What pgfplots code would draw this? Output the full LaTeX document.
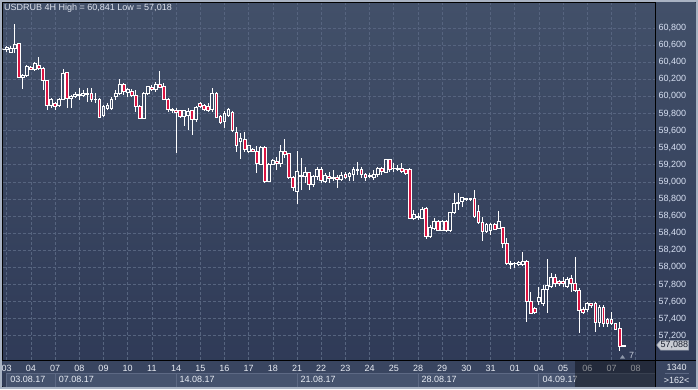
\documentclass[border=0pt]{standalone}
\usepackage{pgfplots}
\pgfplotsset{compat=1.18}
\usepackage{pgfplotstable}
\usepackage{fontspec}
\setmainfont{Liberation Sans}
\definecolor{gridc}{HTML}{56647F}
\definecolor{daylab}{HTML}{E8ECF4}
\definecolor{pricelab}{HTML}{D8E1F3}
\definecolor{candlered}{HTML}{DA1442}
\definecolor{bgtop}{HTML}{425069}
\definecolor{bgbot}{HTML}{2E3956}
\definecolor{framec}{HTML}{A9B3C3}
\definecolor{dayrow}{HTML}{394560}
\definecolor{daterow}{HTML}{46536E}
\definecolor{darkcell}{HTML}{323C55}
\definecolor{sepc}{HTML}{5D6984}
\definecolor{tagfill}{HTML}{C9CCD3}
\definecolor{tagdraw}{HTML}{9AA3B3}
\definecolor{tagtext}{HTML}{1A2030}
\definecolor{markc}{HTML}{8E98AA}
\definecolor{sevenc}{HTML}{C5CBD8}
\definecolor{titlec}{HTML}{DFE4EE}
\newcommand\f{\fontsize{9bp}{10.8bp}\selectfont}

\pgfplotstableread{
j o h l c
0 60.549 60.566 60.537 60.554
1 60.543 60.589 60.519 60.566
2 60.516 60.589 60.504 60.563
3 60.563 60.841 60.504 60.601
4 60.613 60.621 60.212 60.223
5 60.223 60.262 60.083 60.247
6 60.239 60.367 60.223 60.347
7 60.336 60.356 60.303 60.317
8 60.317 60.399 60.300 60.379
9 60.359 60.464 60.309 60.325
10 60.329 60.347 60.075 60.180
11 60.180 60.186 59.841 59.888
12 59.888 59.978 59.861 59.966
13 59.919 59.938 59.841 59.880
14 59.899 59.978 59.880 59.966
15 59.966 60.317 59.958 60.270
16 60.274 60.289 59.864 59.970
17 59.970 60.016 59.861 59.997
18 59.997 60.051 59.981 60.025
19 60.025 60.095 59.958 60.008
20 60.016 60.075 59.997 60.036
21 60.036 60.095 59.938 60.020
22 60.034 60.095 59.938 59.958
23 59.958 60.036 59.919 59.964
24 59.964 59.981 59.744 59.756
25 59.771 59.899 59.759 59.876
26 59.853 59.923 59.841 59.899
27 59.853 59.997 59.841 59.958
28 59.997 60.075 59.958 60.028
29 60.036 60.200 60.016 60.133
30 60.133 60.153 60.016 60.055
31 60.051 60.098 59.997 60.075
32 60.055 60.086 59.993 60.016
33 60.016 60.075 59.821 59.880
34 59.880 59.899 59.733 59.744
35 59.744 60.055 59.733 60.036
36 60.028 60.122 60.016 60.114
37 60.106 60.133 60.063 60.083
38 60.083 60.168 60.055 60.133
39 60.133 60.297 60.095 60.106
40 60.110 60.153 59.958 59.966
41 59.966 59.978 59.821 59.841
42 59.841 59.861 59.802 59.835
43 59.835 59.861 59.342 59.812
44 59.829 59.841 59.747 59.763
45 59.763 59.841 59.658 59.829
46 59.782 59.861 59.607 59.818
47 59.829 59.841 59.549 59.724
48 59.724 59.888 59.704 59.864
49 59.911 59.938 59.861 59.876
50 59.888 59.911 59.829 59.841
51 59.876 59.926 59.821 59.833
52 59.841 60.095 59.821 60.036
53 60.036 60.055 59.744 59.756
54 59.759 59.782 59.685 59.692
55 59.704 59.829 59.630 59.802
56 59.782 59.861 59.759 59.841
57 59.806 59.829 59.584 59.595
58 59.572 59.642 59.350 59.420
59 59.478 59.572 59.268 59.502
60 59.490 59.580 59.353 59.381
61 59.353 59.432 59.338 59.420
62 59.381 59.396 59.350 59.361
63 59.353 59.424 59.101 59.218
64 59.206 59.424 59.198 59.404
65 59.404 59.420 58.989 59.007
66 59.007 59.221 59.004 59.209
67 59.209 59.268 59.198 59.248
68 59.236 59.295 59.139 59.218
69 59.218 59.432 59.178 59.353
70 59.361 59.502 59.283 59.323
71 59.326 59.334 59.032 59.055
72 59.055 59.069 58.894 58.932
73 58.885 59.365 58.738 59.119
74 59.075 59.276 58.905 59.063
75 59.061 59.178 58.989 59.112
76 59.108 59.116 58.905 58.972
77 58.972 59.081 58.944 59.061
78 59.061 59.178 59.022 59.139
79 59.139 59.178 58.989 59.014
80 59.007 59.108 58.989 59.069
81 59.061 59.119 58.989 59.042
82 59.046 59.139 59.011 59.039
83 59.055 59.081 58.925 59.022
84 59.022 59.119 59.007 59.069
85 59.089 59.119 59.032 59.055
86 59.061 59.119 59.007 59.101
87 59.081 59.178 59.011 59.148
88 59.143 59.236 59.081 59.136
89 59.139 59.178 59.042 59.092
90 59.092 59.101 59.007 59.055
91 59.073 59.101 59.042 59.066
92 59.055 59.139 59.022 59.089
93 59.092 59.178 59.061 59.159
94 59.159 59.178 59.081 59.119
95 59.112 59.264 59.101 59.256
96 59.256 59.260 59.119 59.148
97 59.162 59.218 59.119 59.155
98 59.151 59.198 59.139 59.144
99 59.159 59.218 59.101 59.119
100 59.139 59.148 59.081 59.101
101 59.139 59.159 58.566 58.574
102 58.574 58.671 58.554 58.613
103 58.595 58.633 58.554 58.589
104 58.574 58.703 58.562 58.679
105 58.691 58.710 58.328 58.359
106 58.359 58.496 58.340 58.468
107 58.456 58.574 58.437 58.534
108 58.534 58.554 58.426 58.437
109 58.437 58.554 58.426 58.534
110 58.534 58.554 58.414 58.437
111 58.437 58.651 58.417 58.644
112 58.640 58.867 58.633 58.750
113 58.753 58.867 58.671 58.746
114 58.768 58.826 58.710 58.815
115 58.808 58.817 58.777 58.788
116 58.800 58.811 58.782 58.793
117 58.808 58.905 58.586 58.592
118 58.648 58.730 58.507 58.522
119 58.522 58.586 58.312 58.417
120 58.417 58.516 58.398 58.496
121 58.429 58.522 58.379 58.507
122 58.507 58.522 58.437 58.445
123 58.456 58.663 58.445 58.534
124 58.468 58.476 58.223 58.282
125 58.282 58.340 58.028 58.048
126 58.048 58.078 57.984 58.028
127 58.040 58.058 57.993 58.047
128 58.028 58.070 58.016 58.058
129 58.028 58.184 58.016 58.070
130 58.070 58.087 57.365 57.599
131 57.599 57.716 57.455 57.463
132 57.522 57.537 57.463 57.470
133 57.599 57.774 57.560 57.651
134 57.572 57.794 57.549 57.743
135 57.743 58.095 57.470 57.783
136 57.774 57.938 57.755 57.884
137 57.884 57.923 57.774 57.813
138 57.829 57.853 57.783 57.817
139 57.833 57.891 57.768 57.806
140 57.774 57.891 57.755 57.861
141 57.872 57.911 57.716 57.813
142 57.813 58.118 57.716 57.727
143 57.727 57.755 57.233 57.494
144 57.510 57.540 57.463 57.470
145 57.502 57.599 57.482 57.580
146 57.572 57.587 57.522 57.549
147 57.572 57.599 57.248 57.353
148 57.353 57.560 57.307 57.533
149 57.533 57.560 57.300 57.338
150 57.385 57.405 57.307 57.338
151 57.393 57.482 57.326 57.338
152 57.338 57.353 57.268 57.276
153 57.284 57.365 57.018 57.072
154 57.077 57.093 57.073 57.088
}\candles

\pgfplotsset{chartgeom/.style={
  at={(2.5bp,28.7bp)}, anchor=south west,
  scale only axis, width=652.8bp, height=357.8bp,
  xmin=-0.05, xmax=161.855, ymin=56.913, ymax=61.098}}

\begin{document}
\begin{tikzpicture}[x=1bp,y=1bp]
\useasboundingbox (0,0) rectangle (698,389);
% frame and backgrounds
\fill[framec] (0,0) rectangle (698,389);
\fill[black] (1.8,1.8) rectangle (696.2,387.2);
\shade[top color=bgtop, bottom color=bgbot] (2.5,2.5) rectangle (695.5,386.5);
% bottom panel rows
\fill[dayrow] (2.5,15.5) rectangle (695.5,28.7);
\fill[daterow] (2.5,2.5) rectangle (655.3,15.7);
\fill[darkcell] (2.5,2.5) rectangle (6.2,15.7);
\fill[dayrow] (655.3,2.5) rectangle (695.5,15.5);
\foreach \xa in {6.7,55.1,176,297,418,538.9}{
  \draw[sepc, line width=1bp] (\xa,2.5) -- (\xa,15.7);
}
\draw[sepc, line width=0.8bp] (6.2,15.7) -- (655.3,15.7);
\draw[sepc, line width=0.8bp] (665,15.3) -- (688.5,15.3);

\begin{axis}[chartgeom,
  xtick={1,7,...,157},
  xticklabels={03,04,07,08,09,10,11,14,15,16,17,18,21,22,23,24,25,28,29,30,31,01,04,05,06,07,08},
  ytick={57.2,57.4,57.6,57.8,58,58.2,58.4,58.6,58.8,59,59.2,59.4,59.6,59.8,60,60.2,60.4,60.6,60.8},
  yticklabel pos=right,
  grid=major,
  major grid style={color=gridc, dash pattern=on 3bp off 2bp, line width=0.7bp},
  axis line style={black, line width=1bp},
  major tick length=0pt,
  tick style={draw=none},
  xticklabel style={font=\f, text=daylab, anchor=north, inner sep=0pt, yshift=-4.5bp},
  yticklabel style={font=\f, text=pricelab, anchor=west, inner sep=0pt, xshift=3bp,
    /pgf/number format/.cd, fixed, fixed zerofill, precision=3, use comma, 1000 sep={}, assume math mode=true},
]
\addplot[draw=none, mark=none, forget plot,
  error bars/.cd, y dir=plus, y explicit, error mark=none,
  error bar style={draw=white, line width=1bp, solid}]
  table[x=j, y expr={max(\thisrow{o},\thisrow{c})},
        y error plus expr={\thisrow{h}-max(\thisrow{o},\thisrow{c})}] {\candles};
\addplot[draw=none, mark=none, forget plot,
  error bars/.cd, y dir=minus, y explicit, error mark=none,
  error bar style={draw=white, line width=1bp, solid}]
  table[x=j, y expr={min(\thisrow{o},\thisrow{c})},
        y error minus expr={min(\thisrow{o},\thisrow{c})-\thisrow{l}}] {\candles};
\end{axis}

\begin{axis}[chartgeom, hide axis, ybar stacked, bar width=2.8bp]
\addplot[draw=none, fill=none] table[x=j, y expr={min(\thisrow{o},\thisrow{c})}] {\candles};
\addplot[draw=white, fill=none, line width=1bp] table[x=j, y expr={max(\thisrow{c}-\thisrow{o},0)}] {\candles};
\addplot[draw=white, fill=candlered, line width=1bp] table[x=j, y expr={max(\thisrow{o}-\thisrow{c},0)}] {\candles};
\end{axis}

% separating lines
\draw[black, line width=1bp] (655.3,2.5) -- (655.3,386.5);
\draw[black, line width=1bp] (2.5,28.7) -- (695.5,28.7);

% date labels
\foreach \xa/\t in {6.7/03.08.17, 55.1/07.08.17, 176/14.08.17, 297/21.08.17, 418/28.08.17, 538.9/04.09.17}{
  \node[font=\f, text=daylab, anchor=west, inner sep=0pt] at (\xa+3.5,9.2) {\t};
}
% future region overlay
\fill[black, opacity=0.38] (574.5,2.5) rectangle (654.8,28.2);

% right bottom cell
\node[font=\f, text=daylab, inner sep=0pt] at (676.7,21.7) {1340};
\node[font=\f, text=daylab, inner sep=0pt] at (676.7,9) {>162<};

% price tag
\fill[tagfill, draw=tagdraw, line width=0.5bp] (656.7,44) -- (660.5,48.5) -- (688.5,48.5) -- (688.5,39) -- (660.5,39) -- cycle;
\node[font=\f, text=tagtext, inner sep=0pt] at (674.3,43.6) {57,088};

% marker
\fill[markc] (620,30.5) -- (625,30.5) -- (622.5,34) -- cycle;
\node[font=\f, text=sevenc, inner sep=0pt] at (631.5,33.8) {7};

% title
\node[font=\f, text=titlec, anchor=west, inner sep=0pt] at (4,380.5) {USDRUB 4H High = 60,841 Low = 57,018};
\end{tikzpicture}
\end{document}
